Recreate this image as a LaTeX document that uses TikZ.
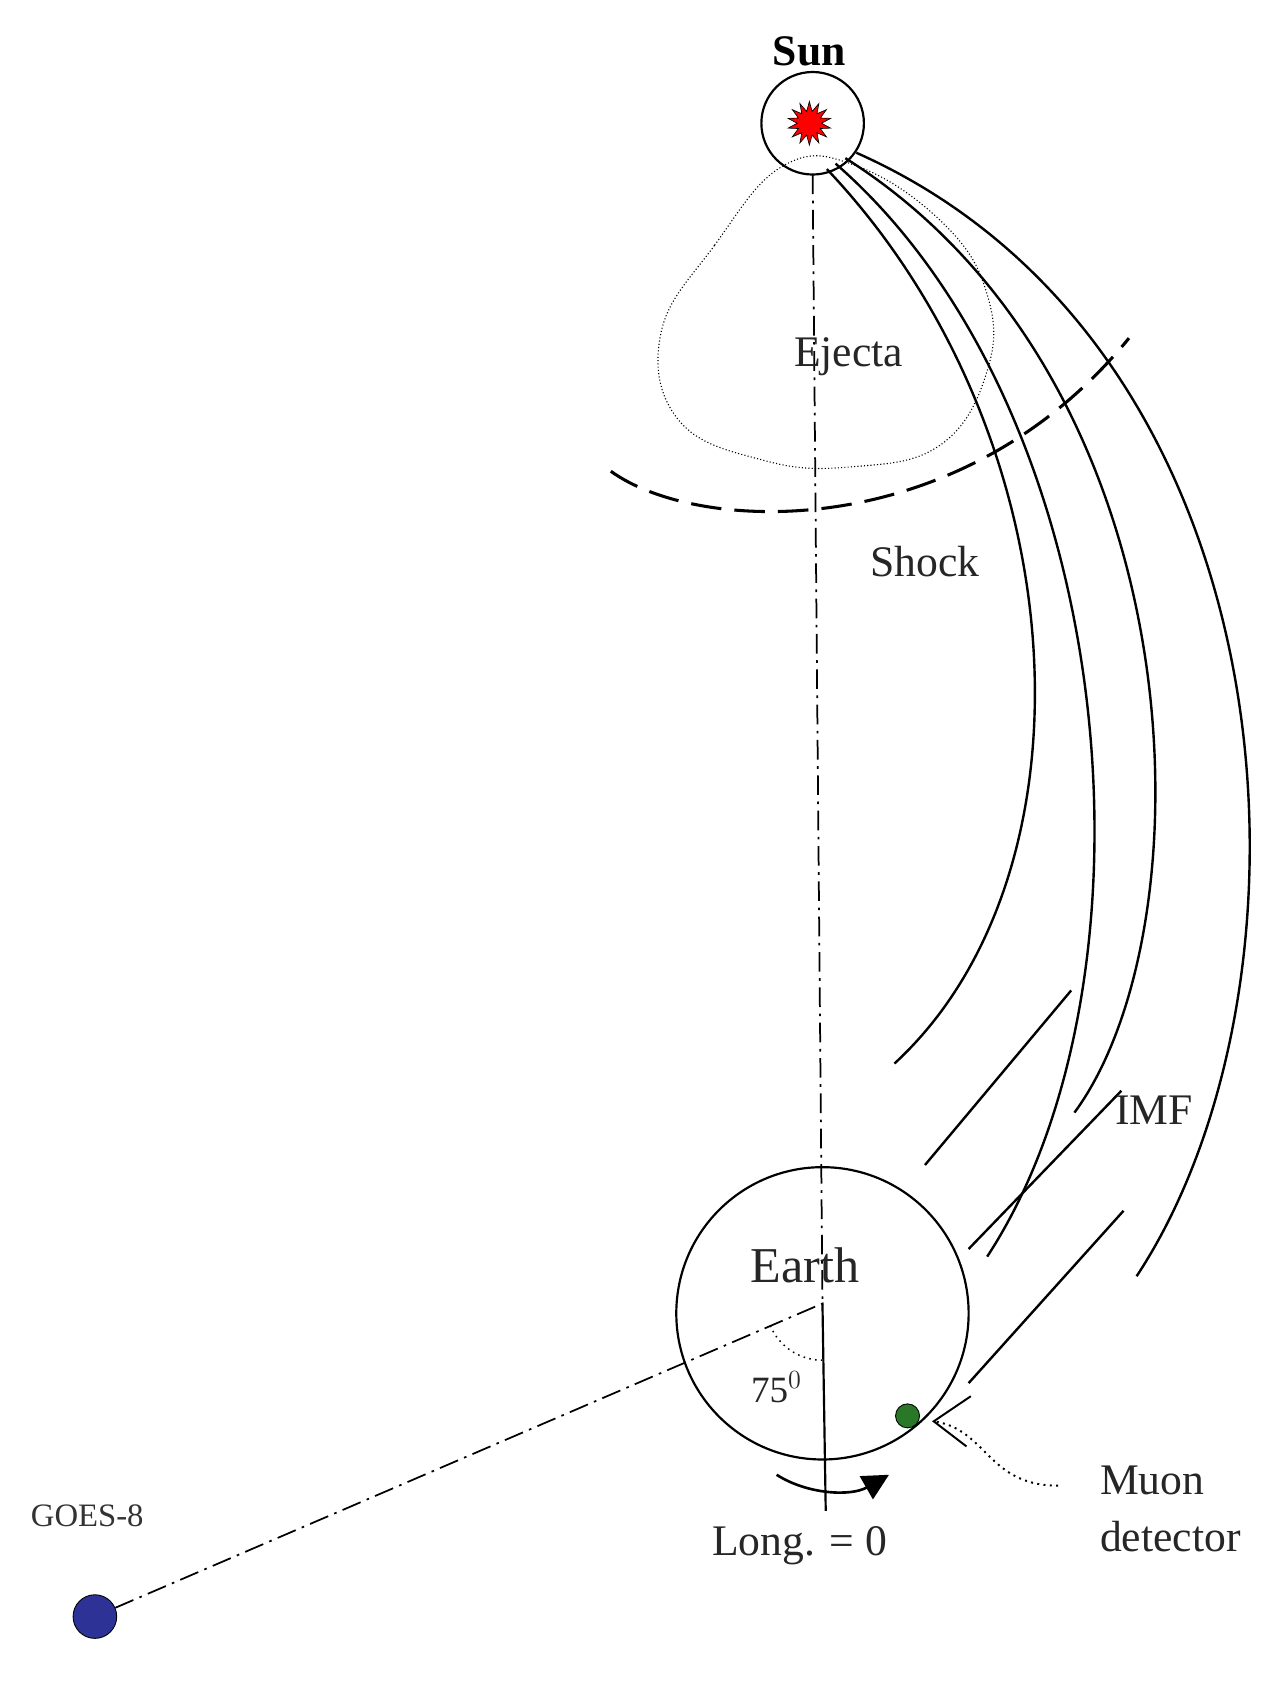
\documentclass[tikz,border=0pt]{standalone}
\usepackage{fontspec}
\setmainfont{Liberation Serif}
\usetikzlibrary{shapes.geometric,arrows.meta}
\begin{document}
\begin{tikzpicture}[x=0.5pt,y=-0.5pt,
  lbl/.style={font=\fontsize{20}{22}\selectfont, text=black!85},
  fld/.style={line width=1.1pt},
  dashdot/.style={dash pattern=on 9pt off 3pt on 1.2pt off 3pt, line width=0.8pt}]
\useasboundingbox (0,0) rectangle (1165,1553);
% Sun
\node[circle,draw,line width=1pt,minimum size=47pt,inner sep=0] (sun) at (745,113) {};
\node[star,star points=14,star point ratio=1.8,fill=red,draw=black,line width=0.3pt,minimum size=20pt,inner sep=0] (flare) at (742,113) {};
\node[font=\bfseries\fontsize{20}{22}\selectfont] (sunl) at (742,47) {Sun};
% Earth
\node[circle,draw,line width=1pt,minimum size=134pt,inner sep=0] (earth) at (754,1204) {};
\node[lbl,font=\fontsize{23}{25}\selectfont] (earthl) at (738,1160) {Earth};
\coordinate (ec) at (754,1195);
\coordinate (sb) at (745,160);
\coordinate (lb) at (757,1385);
\draw[dashdot] (sb) -- (ec);
\draw[line width=1pt] (ec) -- (lb);
% GOES
\node[circle,draw,fill={rgb,255:red,45;green,50;blue,150},minimum size=20pt,inner sep=0] (goes) at (87,1482) {};
\node[font=\fontsize{15}{17}\selectfont,text=black!80] (goesl) at (80,1390) {GOES-8};
\draw[dashdot] (goes) -- (ec) -- ++(0,7);
% angle
\draw[dotted,line width=0.7pt] (ec) ++(157:52) arc[start angle=157,end angle=90,radius=52];
\node[lbl,font=\fontsize{17}{19}\selectfont] (ang) at (712,1272) {75$^{0}$};
% rotation arrow
\coordinate (r1) at (712,1352);
\coordinate (r2) at (815,1352);
\draw[line width=1.2pt,-{Triangle[length=12pt,width=12pt]}] (r1) .. controls (740,1370) and (780,1372) .. (r2);
\node[lbl] (long) at (733,1417) {Long. = 0};
% muon detector
\node[circle,draw,fill={rgb,255:red,40;green,120;blue,40},minimum size=11pt,inner sep=0] (muon) at (832,1298) {};
\coordinate (tipm) at (856,1303);
\draw[line width=0.9pt] (890,1280) -- (tipm) -- (886,1326);
\coordinate (mt) at (970,1362);
\draw[dotted,line width=0.9pt] (mt) .. controls (905,1362) and (905,1310) .. (tipm);
\node[lbl,align=left] (muonl) at (1073,1383) {Muon\\[4pt]detector};
% ejecta
\draw[densely dotted,line width=0.5pt] plot[smooth cycle,tension=0.7] coordinates {(718,152) (655,225) (606,305) (622,385) (700,422) (780,428) (862,408) (905,340) (905,270) (865,205) (785,152)};
\node[lbl] (ej) at (778,327) {Ejecta};
% shock
\draw[dashed,dash pattern=on 14pt off 6pt,line width=1.4pt] (560,432) .. controls (640,490) and (880,500) .. (1035,310);
\node[lbl] (shock) at (848,515) {Shock};
% field lines
\draw[fld] (758,155) .. controls (990,400) and (1010,800) .. (820,975);
\draw[fld] (766,150) .. controls (1030,380) and (1070,900) .. (905,1152);
\draw[fld] (775,145) .. controls (1100,350) and (1110,850) .. (985,1020);
\draw[fld] (785,140) .. controls (1190,320) and (1220,900) .. (1042,1170);
\draw[fld] (848,1068) -- (982,908);
\draw[fld] (888,1145) -- (1028,1000);
\draw[fld] (888,1268) -- (1030,1110);
\node[lbl] (imf) at (1058,1018) {IMF};
\end{tikzpicture}
\end{document}
